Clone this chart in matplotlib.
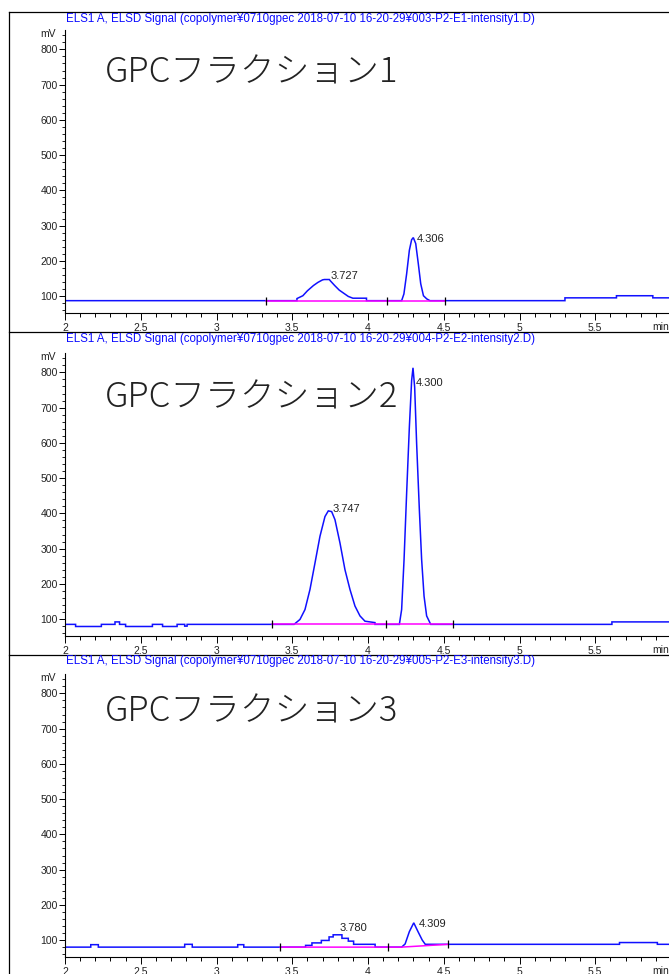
import matplotlib.pyplot as plt
import numpy as np
from matplotlib.lines import Line2D
from matplotlib.ticker import MultipleLocator, FuncFormatter

# sample names / titles
titles = [
    "ELS1 A, ELSD Signal (copolymer\u00a50710gpec 2018-07-10 16-20-29\u00a5003-P2-E1-intensity1.D)",
    "ELS1 A, ELSD Signal (copolymer\u00a50710gpec 2018-07-10 16-20-29\u00a5004-P2-E2-intensity2.D)",
    "ELS1 A, ELSD Signal (copolymer\u00a50710gpec 2018-07-10 16-20-29\u00a5005-P2-E3-intensity3.D)",
]
fractions = ["GPCフラクション1", "GPCフラクション2", "GPCフラクション3"]

# fraction 1 trace (min, mV)
t1 = [2.0, 3.531, 3.531, 3.57, 3.60, 3.64, 3.67, 3.70, 3.712, 3.745, 3.75, 3.78,
      3.81, 3.84, 3.87, 3.90, 3.99, 3.99, 4.222, 4.237, 4.255, 4.273, 4.288,
      4.299, 4.315, 4.332, 4.348, 4.366, 4.388, 4.409, 5.30, 5.30, 5.64, 5.64,
      5.88, 5.88, 6.1]
v1 = [87, 87, 93, 101, 115, 130, 139, 146, 147, 147, 144, 130,
      117, 108, 99, 94, 94, 87, 87, 106, 163, 230, 260,
      266, 249, 192, 135, 101, 92, 87, 87, 95, 95, 101,
      101, 95, 95]

# fraction 2 trace
t2 = [2.0, 2.07, 2.07, 2.24, 2.24, 2.33, 2.33, 2.36, 2.36, 2.40, 2.40, 2.577,
      2.577, 2.644, 2.644, 2.74, 2.74, 2.79, 2.79, 2.806, 2.806,
      3.512, 3.551, 3.584, 3.617, 3.650, 3.683, 3.716, 3.738, 3.760, 3.782,
      3.815, 3.848, 3.881, 3.914, 3.947, 3.980, 4.046, 4.046,
      4.207, 4.222, 4.238, 4.255, 4.273, 4.288, 4.297, 4.308, 4.321, 4.339,
      4.354, 4.370, 4.387, 4.414, 5.61, 5.61, 6.1]
v2 = [85, 85, 79, 79, 85, 85, 92, 92, 85, 85, 79, 79,
      85, 85, 79, 79, 85, 85, 80, 80, 85,
      85, 99, 127, 184, 259, 335, 391, 407, 405, 382,
      316, 240, 184, 137, 109, 94, 90, 85,
      85, 127, 269, 457, 645, 777, 813, 758, 598, 410,
      269, 165, 109, 85, 85, 92, 92]

# fraction 3 trace
t3 = [2.0, 2.17, 2.17, 2.22, 2.22, 2.79, 2.79, 2.84, 2.84, 3.14, 3.14, 3.18,
      3.18, 3.588, 3.588, 3.63, 3.63, 3.692, 3.692, 3.743, 3.743, 3.77, 3.77,
      3.828, 3.828, 3.87, 3.87, 3.905, 3.905, 4.047, 4.047,
      4.222, 4.245, 4.273, 4.302, 4.33, 4.358, 4.378, 5.66, 5.66, 5.91, 5.91, 6.1]
v3 = [80, 80, 87, 87, 80, 80, 88, 88, 80, 80, 87, 87,
      80, 80, 85, 85, 92, 92, 99, 99, 109, 109, 115,
      115, 105, 105, 97, 97, 88, 88, 80,
      80, 89, 124, 149, 124, 100, 88, 88, 93, 93, 88, 88]

# integration baselines and event marks
base_t = [[3.33, 4.51], [3.366, 4.563], [3.42, 4.22, 4.53]]
base_v = [[87, 87], [85, 85], [80, 80, 88]]
events = [[3.33, 4.127, 4.51], [3.366, 4.119, 4.563], [3.42, 4.13, 4.53]]

# peak retention times and label positions
peak_lbl = [["3.727", "4.306"], ["3.747", "4.300"], ["3.780", "4.309"]]
lbl_x = [[3.752, 4.325], [3.765, 4.318], [3.81, 4.333]]
lbl_y = [[158, 262], [412, 770], [134, 146]]

traces = [(t1, v1), (t2, v2), (t3, v3)]

W, H = 669, 974
fig = plt.figure(figsize=(W / 100, H / 100), dpi=100)
plt.rcParams['font.family'] = ['Liberation Sans', 'DejaVu Sans']

bottoms = [313, 636, 957]
tops_title = [19, 339, 661]
big_y = [72, 397, 711]
ax_h = 283
x_right = 2 + 615 / 151.5

for i in range(3):
    b = bottoms[i]
    ax = fig.add_axes([65 / W, 1 - b / H, 615 / W, ax_h / H])
    t, v = traces[i]
    ax.plot(t, v, color='#1010ff', lw=1.1, solid_joinstyle='miter')
    ax.plot(base_t[i], base_v[i], color='#ff00ff', lw=1.1)
    ev_y = np.interp(events[i], base_t[i], base_v[i])
    ax.plot(events[i], ev_y, ls='none', marker='|', ms=6, mew=0.9, color='k')

    for s, lx, ly in zip(peak_lbl[i], lbl_x[i], lbl_y[i]):
        ax.text(lx, ly, s, fontsize=8, color='#222222', ha='left', va='center')

    ax.set_xlim(2, x_right)
    ax.set_ylim(52, 855)
    for sp in ['top', 'right']:
        ax.spines[sp].set_visible(False)
    ax.spines['left'].set_linewidth(0.8)
    ax.spines['bottom'].set_linewidth(0.8)
    ax.xaxis.set_major_locator(MultipleLocator(0.5))
    ax.xaxis.set_minor_locator(MultipleLocator(0.1))
    ax.yaxis.set_major_locator(MultipleLocator(100))
    ax.yaxis.set_minor_locator(MultipleLocator(20))
    ax.xaxis.set_major_formatter(FuncFormatter(
        lambda x, p: f"{x:g}" if x < 5.8 else ""))
    ax.yaxis.set_major_formatter(FuncFormatter(
        lambda y, p: f"{y:g}" if 100 <= y <= 800 else ""))
    ax.tick_params(axis='x', which='major', length=5, width=0.7, pad=2,
                   labelsize=7.5, labelcolor='#222222')
    ax.tick_params(axis='x', which='minor', length=3, width=0.7)
    ax.tick_params(axis='y', which='major', length=4, width=0.7, pad=1,
                   labelsize=7.5, labelcolor='#222222')
    ax.tick_params(axis='y', which='minor', length=2, width=0.6)
    ax.patch.set_alpha(0)

    ax.annotate('mV', xy=(0, 1), xycoords='axes fraction', xytext=(-9, -4),
                textcoords='offset pixels', ha='right', va='center',
                fontsize=7.5, color='#222222')
    ax.annotate('min', xy=(5.875, 0), xycoords=('data', 'axes fraction'),
                xytext=(0, -14), textcoords='offset pixels', ha='left',
                va='center', fontsize=7.5, color='#222222')

    fig.text(66 / W, 1 - tops_title[i] / H, titles[i], color='#0a0aff',
             fontsize=8.3, va='center', ha='left')
    fig.text(105 / W, 1 - big_y[i] / H, fractions[i], fontsize=25,
             family=['Noto Sans CJK JP', 'DejaVu Sans'], weight='light',
             va='center', ha='left', color='#222222')

# panel frames
fig.add_artist(Line2D([9 / W, 9 / W], [1 - 12 / H, 0], color='k', lw=0.9))
for yy in [12, 332, 655]:
    fig.add_artist(Line2D([9 / W, 1], [1 - yy / H, 1 - yy / H], color='k', lw=0.9))

fig.savefig('out.png', dpi=100)
